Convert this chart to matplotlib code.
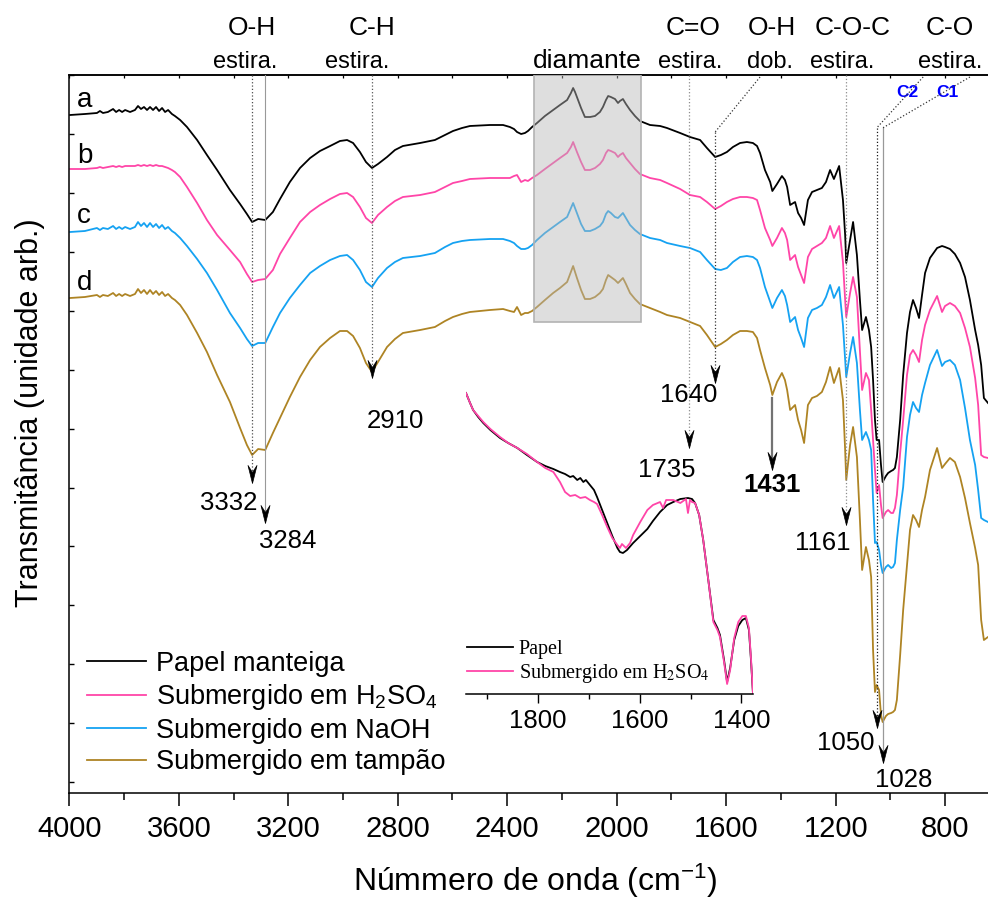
import numpy as np
import matplotlib
matplotlib.use('Agg')
import matplotlib.pyplot as plt
from matplotlib.path import Path
from matplotlib.patches import Rectangle
from matplotlib.ticker import MultipleLocator, FixedLocator
from matplotlib.font_manager import FontProperties

plt.rcParams['font.family'] = ['Liberation Sans', 'DejaVu Sans']
plt.rcParams['mathtext.fontset'] = 'custom'
plt.rcParams['mathtext.rm'] = 'Liberation Sans'
plt.rcParams['mathtext.it'] = 'Liberation Sans'
plt.rcParams['mathtext.bf'] = 'Liberation Sans:bold'

# ---------------- data (wavenumber, cm-1) ----------------
wavenumber = [3997, 3943, 3899, 3888, 3877, 3859, 3840, 3829, 3818, 3807, 3796, 3778, 3760, 3749, 3738,
              3727, 3716, 3705, 3694, 3683, 3672, 3661, 3650, 3639, 3625, 3614, 3595, 3570, 3533, 3497,
              3460, 3413, 3376, 3351, 3332, 3310, 3284, 3256, 3230, 3194, 3157, 3120, 3084, 3047, 3011,
              2985, 2963, 2938, 2916, 2894, 2872, 2839, 2810, 2781, 2718, 2664, 2627, 2598, 2565, 2536,
              2463, 2415, 2390, 2375, 2364, 2349, 2335, 2324, 2309, 2291, 2262, 2232, 2207, 2181, 2167,
              2159, 2152, 2145, 2130, 2116, 2097, 2079, 2061, 2050, 2039, 2031, 2021, 2006, 1995, 1988,
              1977, 1966, 1951, 1933, 1915, 1878, 1841, 1816, 1768, 1732, 1695, 1670, 1640, 1619, 1597,
              1575, 1549, 1524, 1502, 1487, 1476, 1458, 1439, 1431, 1414, 1396, 1385, 1377, 1366, 1348,
              1337, 1326, 1315, 1301, 1286, 1268, 1250, 1235, 1220, 1206, 1187, 1173, 1165, 1161, 1147,
              1136, 1122, 1111, 1103, 1089, 1078, 1070, 1063, 1056, 1050, 1041, 1034, 1028, 1016, 1008,
              997, 990, 983, 976, 964, 953, 939, 928, 917, 906, 895, 884, 873, 855, 829,
              811, 800, 782, 764, 745, 727, 709, 690, 679, 668, 658, 643]

# transmittance, arbitrary units (offset stack)
t_papel = [685, 686, 687, 689, 687, 688, 691, 688, 690, 688, 690, 688, 690, 694, 691,
           693, 690, 693, 690, 693, 689, 692, 688, 690, 686, 684, 680, 673, 660, 645,
           630, 610, 596, 586, 578, 581, 580, 588, 601, 618, 632, 642, 649, 654, 659,
           660, 657, 648, 638, 632, 636, 643, 650, 654, 657, 660, 665, 669, 672, 674,
           675, 675, 673, 671, 668, 666, 667, 669, 673, 677, 684, 690, 695, 700, 707,
           712, 708, 703, 692, 683, 683, 684, 688, 693, 700, 704, 703, 701, 697, 699,
           701, 696, 690, 684, 679, 675, 674, 672, 667, 663, 660, 652, 643, 645, 648,
           653, 657, 658, 657, 654, 647, 630, 618, 609, 616, 624, 620, 613, 595, 598,
           587, 582, 575, 600, 608, 610, 612, 618, 630, 621, 634, 600, 565, 537, 560,
           578, 545, 500, 470, 483, 470, 453, 420, 380, 360, 360, 335, 318, 324, 327,
           329, 330, 332, 343, 380, 425, 467, 488, 500, 492, 482, 505, 527, 542, 552,
           554, 553, 551, 546, 537, 523, 500, 470, 455, 435, 402, 397]

t_h2so4 = [631, 631, 632, 633, 632, 633, 634, 633, 634, 633, 634, 634, 634, 635, 634,
           635, 634, 635, 634, 635, 634, 634, 633, 632, 630, 628, 623, 613, 597, 580,
           565, 550, 538, 526, 518, 520, 521, 530, 546, 562, 578, 588, 595, 601, 606,
           607, 603, 593, 582, 577, 585, 593, 599, 603, 605, 608, 613, 617, 619, 621,
           622, 622, 622, 624, 625, 618, 620, 619, 622, 625, 631, 637, 642, 647, 653,
           658, 653, 648, 638, 630, 630, 632, 636, 640, 647, 650, 649, 647, 643, 645,
           647, 642, 637, 631, 626, 622, 620, 617, 611, 605, 603, 598, 591, 594, 598,
           601, 603, 603, 602, 600, 590, 572, 560, 554, 562, 572, 567, 560, 540, 545,
           533, 525, 517, 543, 551, 554, 557, 562, 574, 562, 574, 538, 500, 483, 507,
           523, 503, 450, 410, 427, 420, 390, 360, 330, 307, 315, 295, 282, 288, 290,
           287, 287, 292, 305, 347, 380, 425, 445, 450, 445, 438, 460, 475, 490, 504,
           488, 494, 497, 494, 487, 472, 453, 422, 395, 345, 343, 342]

t_naoh = [568, 569, 572, 570, 572, 571, 574, 571, 573, 571, 573, 571, 573, 578, 574,
          577, 573, 577, 573, 576, 572, 575, 571, 573, 569, 567, 562, 554, 541, 527,
          510, 487, 472, 461, 454, 457, 457, 473, 487, 502, 515, 527, 534, 540, 544,
          545, 540, 530, 518, 513, 522, 532, 538, 542, 544, 547, 553, 557, 559, 560,
          561, 561, 559, 557, 554, 551, 551, 552, 555, 560, 567, 573, 578, 583, 592,
          597, 592, 587, 576, 569, 569, 571, 574, 578, 586, 589, 587, 583, 582, 584,
          587, 582, 575, 570, 566, 562, 560, 557, 554, 552, 548, 540, 531, 530, 532,
          538, 543, 544, 543, 540, 532, 513, 498, 492, 502, 510, 504, 495, 478, 483,
          470, 462, 453, 482, 490, 492, 495, 503, 515, 502, 513, 475, 440, 423, 447,
          463, 437, 390, 360, 368, 360, 350, 300, 257, 258, 250, 235, 227, 233, 235,
          232, 233, 237, 260, 290, 313, 363, 385, 398, 392, 388, 405, 417, 435, 450,
          434, 438, 440, 435, 420, 392, 360, 335, 310, 282, 280, 278]

t_tampao = [502, 503, 505, 503, 505, 504, 507, 504, 506, 504, 506, 504, 506, 511, 507,
            510, 506, 510, 506, 509, 505, 508, 504, 506, 502, 500, 495, 485, 467, 448,
            425, 398, 372, 355, 345, 351, 350, 367, 382, 403, 423, 440, 453, 462, 469,
            469, 464, 452, 437, 428, 438, 453, 461, 467, 470, 473, 479, 483, 486, 488,
            490, 491, 489, 488, 493, 485, 487, 487, 489, 493, 500, 507, 512, 518, 528,
            534, 528, 522, 510, 501, 501, 503, 507, 511, 520, 525, 523, 520, 517, 519,
            522, 516, 507, 501, 496, 492, 488, 485, 482, 478, 474, 465, 453, 456, 460,
            465, 469, 469, 468, 462, 450, 432, 415, 405, 418, 427, 420, 410, 390, 395,
            380, 370, 357, 395, 402, 404, 408, 418, 433, 417, 432, 400, 350, 320, 355,
            373, 343, 280, 230, 253, 240, 223, 150, 108, 115, 110, 85, 78, 84, 86,
            87, 88, 90, 100, 145, 190, 235, 270, 285, 280, 273, 290, 303, 330, 352,
            332, 336, 342, 338, 323, 302, 277, 252, 235, 180, 160, 163]

series_labels = ['Papel manteiga', 'Submergido em H$_2$SO$_4$',
                 'Submergido em NaOH', 'Submergido em tampão']
series_letters = ['a', 'b', 'c', 'd']
series_colors = ['#000000', '#FF45A8', '#15A2F2', '#AE8424']

# inset (zoom 1950-1375 cm-1)
inset_wn_papel = [1942, 1934, 1928, 1918, 1908, 1894, 1875, 1859, 1841, 1822, 1802, 1786, 1770, 1757,
                  1747, 1737, 1731, 1723, 1717, 1711, 1706, 1698, 1690, 1684, 1674, 1664, 1654, 1644,
                  1639, 1633, 1625, 1613, 1599, 1585, 1574, 1560, 1546, 1534, 1520, 1505, 1497, 1491,
                  1483, 1475, 1465, 1455, 1447, 1442, 1434, 1428, 1422, 1414, 1406, 1398, 1391, 1385,
                  1381, 1377]
inset_t_papel = [307, 297, 290, 283, 277, 270, 262, 257, 252, 245, 238, 234, 231, 228,
                 226, 223, 224, 220, 222, 218, 220, 215, 210, 203, 190, 177, 164, 152,
                 148, 147, 150, 157, 164, 171, 179, 188, 195, 198, 201, 202, 201, 197,
                 185, 160, 120, 80, 72, 65, 40, 18, 32, 60, 74, 80, 82, 70,
                 40, 6]
inset_wn_h2so4 = [1942, 1934, 1928, 1918, 1908, 1894, 1875, 1859, 1841, 1822, 1802, 1786, 1770, 1757,
                  1747, 1737, 1727, 1717, 1707, 1698, 1690, 1684, 1674, 1664, 1654, 1644, 1639, 1635,
                  1627, 1619, 1613, 1599, 1585, 1574, 1560, 1554, 1548, 1534, 1520, 1509, 1505, 1501,
                  1497, 1491, 1483, 1475, 1465, 1455, 1447, 1442, 1434, 1428, 1422, 1414, 1406, 1398,
                  1391, 1385, 1381, 1377]
inset_t_h2so4 = [307, 297, 290, 284, 278, 271, 263, 257, 252, 246, 238, 232, 228, 218,
                 208, 204, 205, 202, 203, 200, 198, 196, 185, 173, 162, 155, 152, 156,
                 152, 157, 165, 178, 190, 195, 198, 192, 200, 200, 197, 201, 187, 200,
                 198, 197, 185, 160, 120, 78, 70, 63, 38, 16, 30, 62, 78, 84,
                 84, 72, 42, 6]
inset_labels = ['Papel', 'Submergido em H$_2$SO$_4$']

# band annotations
peak_pos = [3332, 3284, 2895, 1735, 1640, 1431, 1161, 1050, 1028]
peak_text = ['3332', '3284', '2910', '1735', '1640', '1431', '1161', '1050', '1028']
arrow_tip = [317, 277, 422, 352, 417, 330, 275, 72, 37]
line_top = [725, 725, 725, 725, 668, 402, 725, 672, 672]
line_style = [':', '-', ':', ':', ':', '-', ':', ':', '-']
line_color = ['0.3', '0.6', '0.35', '0.55', '0.2', '0.45', '0.55', '0.1', '0.6']
line_width = [0.9, 0.8, 0.9, 0.9, 0.9, 1.6, 0.9, 0.9, 0.9]
text_x = [3416, 3201, 2810, 1816, 1736, 1432, 1246, 1162, 950]
text_y = [290, 252, 372, 323, 398, 308, 250, 50, 13]
text_bold = [False, False, False, False, False, True, False, False, False]
# slanted leader lines (start wn, start T) -> (peak, line_top)
leaders = {1640: (1476, 723), 1050: (880, 723), 1028: (709, 723)}

band_names = [('O-H', 3332), ('C-H', 2894), ('C=O', 1721), ('O-H', 1432), ('C-O-C', 1136), ('C-O', 782)]
band_modes = [('estira.', 3358), ('estira.', 2949), ('diamante', 2108), ('estira.', 1732),
              ('dob.', 1439), ('estira.', 1176), ('estira.', 782)]
sub_labels = [('C2', 939), ('C1', 793)]

diamond_region = (2302, 1911, 478)  # wn start, wn end, lower T

# ---------------- figure ----------------
fig = plt.figure(figsize=(9.88, 9.01), dpi=100)
ax = fig.add_axes([69.3 / 988, 108 / 901, 918.7 / 988, 718 / 901])

wn = np.array(wavenumber)
lines = []
for t, c, lab in zip([t_papel, t_h2so4, t_naoh, t_tampao], series_colors, series_labels):
    ln, = ax.plot(wn, t, color=c, lw=1.3, label=lab, zorder=2)
    lines.append(ln)

ax.set_xlim(4000, 643)
ax.set_ylim(7, 725)

# diamond window
ax.add_patch(Rectangle((diamond_region[0], diamond_region[2]),
                       diamond_region[1] - diamond_region[0], 725 - diamond_region[2],
                       facecolor=(0.72, 0.72, 0.72), alpha=0.46, edgecolor='none', zorder=3))
ax.add_patch(Rectangle((diamond_region[0], diamond_region[2]),
                       diamond_region[1] - diamond_region[0], 725 - diamond_region[2],
                       facecolor='none', edgecolor='0.7', lw=1.2, zorder=3))

# curve letters
letter_y = [693, 637, 577, 510]
for L, y in zip(series_letters, letter_y):
    ax.text(3972, y, L, fontsize=20, ha='left', va='baseline')

# arrows
head = Path([(0, 0), (-4.5, 18), (0, 11), (4.5, 18), (0, 0)],
            [Path.MOVETO, Path.LINETO, Path.LINETO, Path.LINETO, Path.CLOSEPOLY])
for i, p in enumerate(peak_pos):
    ax.plot([p, p], [line_top[i], arrow_tip[i] + 11], ls=line_style[i], color=line_color[i],
            lw=line_width[i], zorder=4)
    if p in leaders:
        sx, sy = leaders[p]
        ax.plot([sx, p], [sy, line_top[i]], ls=':', color='0.2', lw=0.9, zorder=4)
    ax.plot([p], [arrow_tip[i]], marker=head, ms=26, color='black', mec='black', mew=0.5,
            ls='none', zorder=5)
    ax.text(text_x[i], text_y[i], peak_text[i], fontsize=18.5, ha='center', va='baseline',
            fontweight='bold' if text_bold[i] else 'normal', zorder=6)

# band labels above the frame
xt = ax.get_xaxis_transform()
for name, x in band_names:
    ax.text(x, 1.0557, name, transform=xt, fontsize=19, ha='center', va='baseline', clip_on=False)
for name, x in band_modes:
    fs = 19 if name == 'diamante' else 17
    ax.text(x, 1.0097, name, transform=xt, fontsize=fs, ha='center', va='baseline', clip_on=False)
for name, x in sub_labels:
    ax.text(x, 703, name, fontsize=12.5, color='#0000FF', fontweight='bold', ha='center',
            va='baseline')

# axes styling
for s in ['left', 'bottom', 'top']:
    ax.spines[s].set_linewidth(1.1)
ax.spines['right'].set_visible(False)
ax.xaxis.set_major_locator(MultipleLocator(400))
ax.xaxis.set_minor_locator(MultipleLocator(200))
ax.tick_params(axis='x', which='major', direction='out', length=9.5, width=1.1, labelsize=21, pad=6)
ax.tick_params(axis='x', which='minor', direction='out', length=5, width=1.1)
ax.yaxis.set_major_locator(FixedLocator(np.arange(18, 726, 58.9)))
ax.tick_params(axis='y', which='major', direction='in', length=3.5, width=1.0, labelleft=False)
sec = ax.secondary_xaxis('top')
sec.set_xticks(np.arange(800, 4001, 200))
sec.tick_params(direction='in', length=2.5, width=0.9, labeltop=False)
sec.spines['top'].set_linewidth(1.1)

fig.text(535 / 988, 1 - 891 / 901, 'Númmero de onda (cm$^{-1}$)', fontsize=23, ha='center',
         va='baseline')
fig.text(30 / 988, 1 - 413 / 901, 'Transmitância (unidade arb.)', fontsize=22, rotation=90,
         ha='center', va='center')

ax.legend(handles=lines, loc='upper left', bbox_to_anchor=(0.019, 0.198), frameon=False,
          fontsize=19.5, handlelength=2.2, handletextpad=0.35, labelspacing=0.2,
          borderpad=0, borderaxespad=0)

# inset
ins = fig.add_axes([466 / 988, 1 - 694 / 901, 287 / 988, 314 / 901])
ins.patch.set_alpha(0)
l1, = ins.plot(inset_wn_papel, inset_t_papel, color='black', lw=1.3)
l2, = ins.plot(inset_wn_h2so4, inset_t_h2so4, color=series_colors[1], lw=1.3)
ins.set_xlim(1942, 1377)
ins.set_ylim(6, 320)
for s in ['left', 'top', 'right']:
    ins.spines[s].set_visible(False)
ins.spines['bottom'].set_linewidth(1.1)
ins.set_yticks([])
ins.xaxis.set_major_locator(MultipleLocator(200))
ins.xaxis.set_minor_locator(MultipleLocator(100))
ins.tick_params(axis='x', which='major', direction='out', length=6.5, width=1.0, labelsize=18.5, pad=4)
ins.tick_params(axis='x', which='minor', direction='out', length=3.5, width=1.0)
ip = FontProperties(family='Liberation Serif', size=14.5, math_fontfamily='stix')
ins.legend([l1, l2], inset_labels, loc='upper left', bbox_to_anchor=(0.003, 0.172), frameon=False,
           prop=ip, handlelength=2.3, handletextpad=0.27, labelspacing=0.15, borderpad=0,
           borderaxespad=0)

fig.savefig('out.png', dpi=100)
